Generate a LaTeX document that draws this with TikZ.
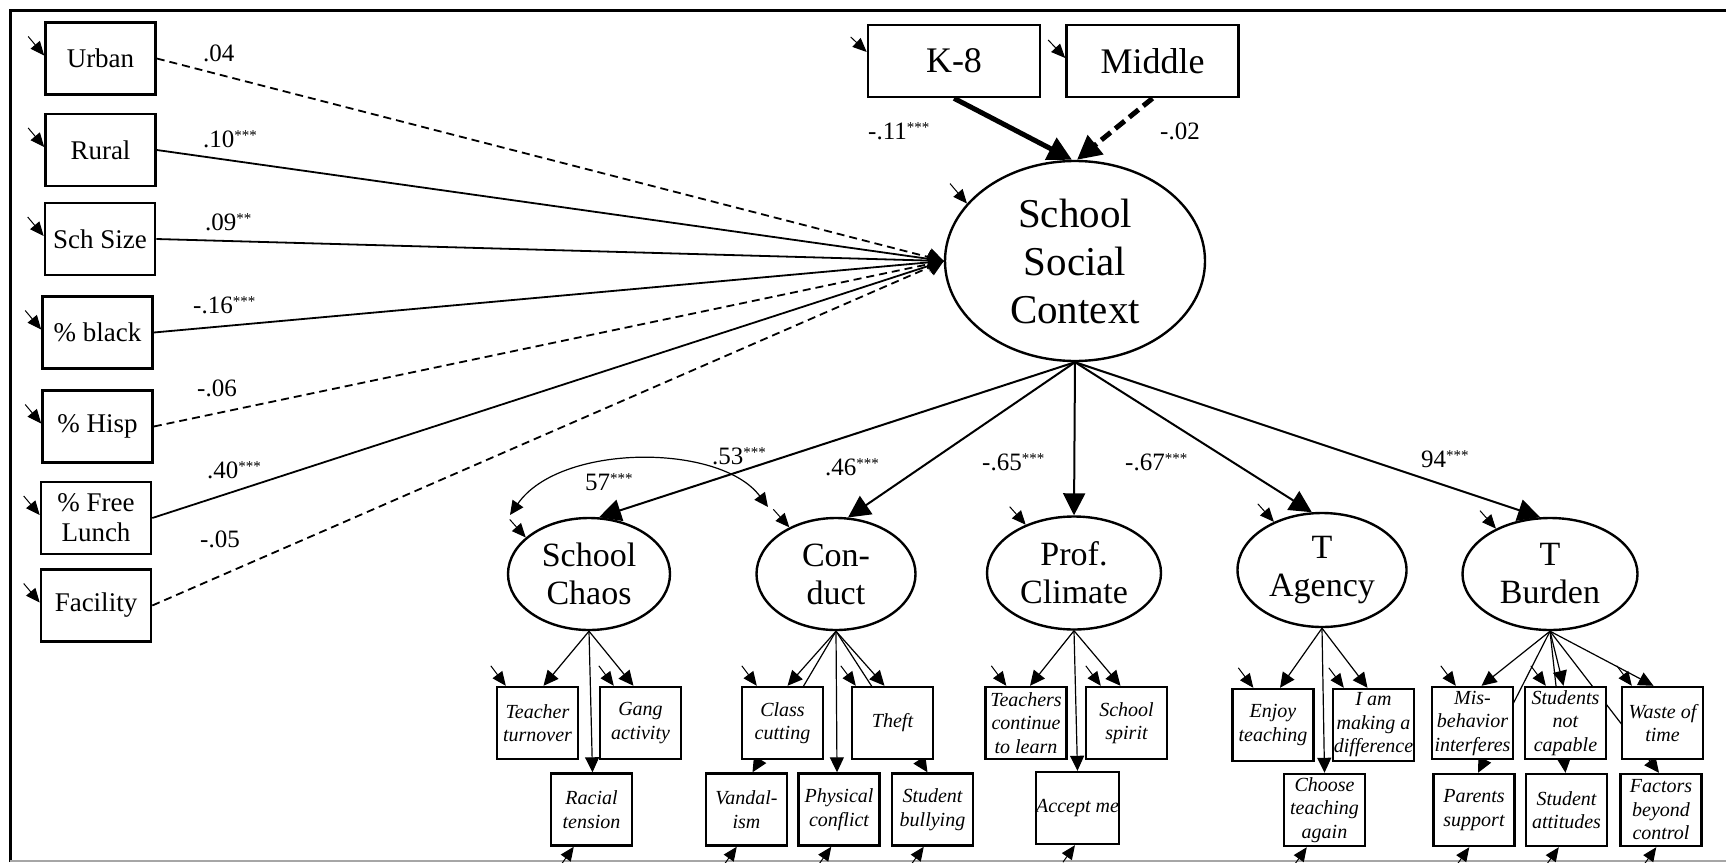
\documentclass[tikz,border=0pt]{standalone}
\usepackage{fontspec}
\setmainfont{Liberation Serif}
\usetikzlibrary{arrows.meta,shapes.geometric,calc}
\pgfdeclarelayer{background}
\pgfsetlayers{background,main}
\newcommand\stars[1]{\raisebox{7pt}{\fontsize{15}{15}\selectfont #1}}
\begin{document}
\begin{tikzpicture}[x=1pt,y=-1pt,
  obs/.style={draw, line width=2.6pt, fill=white, minimum width=110pt, minimum height=72pt, inner sep=0pt, align=center, font=\fontsize{27}{30}\selectfont},
  topbox/.style={obs, minimum width=172pt, font=\fontsize{36}{40}\selectfont},
  lat/.style={ellipse, draw, line width=2.4pt, fill=white, inner sep=0pt, align=center, font=\fontsize{34}{38}\selectfont},
  ind/.style={draw, line width=2.4pt, fill=white, minimum width=81pt, minimum height=72pt, inner sep=0pt, align=center, font=\fontsize{20}{23.5}\selectfont\itshape},
  coef/.style={anchor=base west, inner sep=0pt, font=\fontsize{25}{25}\selectfont},
  lvlone/.style={line width=1.8pt, -{Triangle[length=15pt,width=18pt]}},
  dsh/.style={lvlone, dash pattern=on 8pt off 5pt},
  err/.style={line width=1pt, -{Triangle[length=14pt,width=12pt]}},
  load/.style={line width=1.2pt, -{Triangle[length=15pt,width=14pt]}},
  pathtwo/.style={line width=2pt, -{Triangle[length=22pt,width=22pt]}},
  cov/.style={line width=1.2pt, {Triangle[length=14pt,width=13pt]}-{Triangle[length=14pt,width=13pt]}}
]
\useasboundingbox (0,0) rectangle (1726,862);
% frame
\draw[line width=3pt] (10,862) -- (10,10) -- (1726,10);
\draw[gray!70, line width=1.5pt] (10,861) -- (1726,861);

% exogenous boxes
\node[obs] (urban) at (100.5,58.5) {Urban};
\node[obs] (rural) at (100.5,150) {Rural};
\node[obs] (schsize) at (100,239) {Sch Size};
\node[obs] (black) at (97.5,332.5) {\% black};
\node[obs] (hisp) at (97.5,426.5) {\% Hisp};
\node[obs] (lunch) at (96,518) {\% Free\\Lunch};
\node[obs] (facility) at (96,605.5) {Facility};
\node[topbox] (k8) at (954,61) {K-8};
\node[topbox] (middle) at (1152.5,61) {Middle};

\node[lat, minimum width=260pt, minimum height=200pt, font=\fontsize{41}{48}\selectfont] (ssc) at (1075,261) {School\\Social\\Context};

% latent factors
\node[lat, minimum width=162pt, minimum height=112pt] (sc) at (589,574) {School\\Chaos};
\node[lat, minimum width=159pt, minimum height=112pt] (cd) at (836,574) {Con-\\duct};
\node[lat, minimum width=174pt, minimum height=113pt] (pc) at (1074,573) {Prof.\\Climate};
\node[lat, minimum width=169pt, minimum height=114pt] (ta) at (1322,570) {T\\Agency};
\node[lat, minimum width=175pt, minimum height=112pt] (tb) at (1550,574) {T\\Burden};

% indicators
\node[ind] (tt) at (537.5,723) {Teacher\\turnover};
\node[ind] (ga) at (640.5,723) {Gang\\activity};
\node[ind] (rt) at (591.5,809.5) {Racial\\tension};
\node[ind] (cc) at (782.5,723) {Class\\cutting};
\node[ind] (th) at (892.5,723) {Theft};
\node[ind] (va) at (746.5,809.5) {Vandal-\\ism};
\node[ind] (pcf) at (839,809.5) {Physical\\conflict};
\node[ind] (sb) at (932.5,809.5) {Student\\bullying};
\node[ind] (tl) at (1026,723) {Teachers\\continue\\to learn};
\node[ind] (ss) at (1126.5,723) {School\\spirit};
\node[ind] (am) at (1077.5,808) {Accept me};
\node[ind] (et) at (1273,725) {Enjoy\\teaching};
\node[ind] (md) at (1373.5,725) {I am\\making a\\difference};
\node[ind] (ct) at (1324.5,810) {Choose\\teaching\\again};
\node[ind] (mb) at (1472.5,723) {Mis-\\behavior\\interferes};
\node[ind] (sn) at (1565.5,723) {Students\\not\\capable};
\node[ind] (wt) at (1662.5,723) {Waste of\\time};
\node[ind] (ps) at (1474,810) {Parents\\support};
\node[ind] (sa) at (1566.5,810) {Student\\attitudes};
\node[ind] (fb) at (1661,810) {Factors\\beyond\\control};

% paths to school social context
\begin{pgfonlayer}{background}
\draw[dsh] (urban.east) -- (ssc.west);
\draw[lvlone] (rural.east) -- (ssc.west);
\draw[lvlone] (schsize.east) -- (ssc.west);
\draw[lvlone] (black.east) -- (ssc.west);
\draw[dsh] (hisp.east) -- (ssc.west);
\draw[lvlone] (lunch.east) -- (ssc.west);
\draw[dsh] (facility.east) -- (ssc.west);

% loadings
\draw[load] (sc.south) -- ($(tt.north)+(6,0)$);
\draw[load] (sc.south) -- ($(ga.north)+(-7,0)$);
\draw[load] (sc.south) -- ($(rt.north)+(1,0)$);
\draw[load] (cd.south) -- ($(cc.north)+(5,0)$);
\draw[load] (cd.south) -- ($(th.north)+(-8,0)$);
\draw[load] (cd.south) -- ($(va.north)+(6,0)$);
\draw[load] (cd.south) -- ($(pcf.north)+(-2,0)$);
\draw[load] (cd.south) -- ($(sb.north)+(-5,0)$);
\draw[load] (pc.south) -- ($(tl.north)+(4,0)$);
\draw[load] (pc.south) -- ($(ss.north)+(-6,0)$);
\draw[load] (pc.south) -- (am.north);
\draw[load] (ta.south) -- ($(et.north)+(7,0)$);
\draw[load] (ta.south) -- ($(md.north)+(-6,0)$);
\draw[load] (ta.south) -- (ct.north);
\draw[load] (tb.south) -- ($(mb.north)+(9,0)$);
\draw[load] (tb.south) -- ($(sn.north)+(-2,0)$);
\draw[load] (tb.south) -- ($(wt.north)+(-9,0)$);
\draw[load] (tb.south) -- ($(ps.north)+(4,0)$);
\draw[load] (tb.south) -- ($(sa.north)+(-1,0)$);
\draw[load] (tb.south) -- ($(fb.north)+(-2,0)$);
\end{pgfonlayer}

% K-8 and Middle
\draw[line width=5pt, -{Triangle[length=24pt,width=24pt]}] (k8.south) -- ($(ssc.north)+(-3,0)$);
\draw[line width=5pt, dash pattern=on 12pt off 6pt, -{Triangle[length=24pt,width=24pt]}] (middle.south) -- ($(ssc.north)+(2,0)$);

% structural paths
\draw[pathtwo] (ssc.south) -- (sc.80);
\draw[pathtwo] (ssc.south) -- (cd.78);
\draw[pathtwo] (ssc.south) -- (pc.north);
\draw[pathtwo] (ssc.south) -- (ta.100);
\draw[pathtwo] (ssc.south) -- (tb.100);

% covariance
\coordinate (covL) at ($(sc.center)+(-79,-59)$);
\coordinate (covR) at ($(cd.center)+(-68,-67)$);
\draw[cov] (covL) .. controls ($(covL)+(50,-72)$) and ($(covR)+(-48,-64)$) .. (covR);

% error arrows
\foreach \n in {urban,rural,schsize,black,hisp,lunch,facility}
  \draw[err] ($(\n.west)+(-16,-22)$) -- ($(\n.west)+(0,-3)$);
\draw[err] ($(k8.west)+(-16,-24)$) -- ($(k8.west)+(0,-9)$);
\draw[err] ($(middle.west)+(-17,-21)$) -- ($(middle.west)+(0,-3)$);
\draw[err] ($(ssc.152)+(-17,-20)$) -- (ssc.152);
\foreach \n/\a in {sc/150,cd/135,pc/135,ta/135,tb/140}
  \draw[err] ($(\n.\a)+(-16,-18)$) -- (\n.\a);
\foreach \n/\d in {tt/10,ga/15,cc/16,th/5,tl/22,ss/16,et/22,md/12,mb/25,sn/22,wt/11}
  \draw[err] ($(\n.north west)+(\d,0)+(-15,-20)$) -- ($(\n.north west)+(\d,0)$);
\foreach \n/\d in {rt/24,va/32,pcf/34,sb/33,am/40,ct/24,ps/37,sa/34,fb/37}
  \draw[err] ($(\n.south west)+(\d,0)+(-12,17)$) -- ($(\n.south west)+(\d,0)$);

% coefficients
\node[coef] (c1) at (203,61) {.04};
\node[coef] (c2) at (203,147) {.10\stars{***}};
\node[coef] (c3) at (205,230) {.09\stars{**}};
\node[coef] (c4) at (193,313) {-.16\stars{***}};
\node[coef] (c5) at (197,396) {-.06};
\node[coef] (c6) at (207,478) {.40\stars{***}};
\node[coef] (c7) at (200,547) {-.05};
\node[coef] (c8) at (868,139) {-.11\stars{***}};
\node[coef] (c9) at (1160,139) {-.02};
\node[coef] (c10) at (585,490) {57\stars{***}};
\node[coef] (c11) at (712,464) {.53\stars{***}};
\node[coef] (c12) at (825,475) {.46\stars{***}};
\node[coef] (c13) at (982,470) {-.65\stars{***}};
\node[coef] (c14) at (1125,470) {-.67\stars{***}};
\node[coef] (c15) at (1421,467) {94\stars{***}};
\end{tikzpicture}
\end{document}
